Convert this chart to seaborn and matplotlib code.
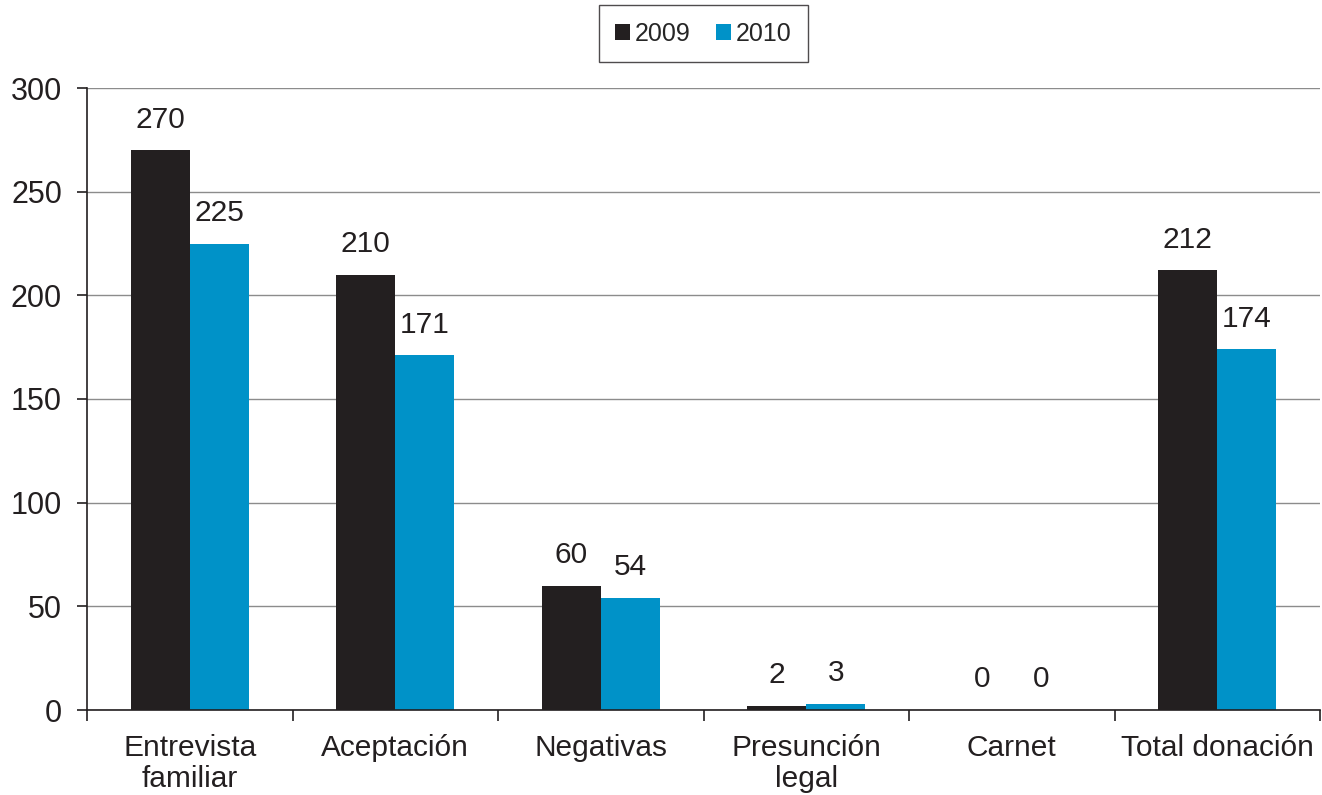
import numpy as np
import pandas as pd
import matplotlib
matplotlib.use("Agg")
import matplotlib.pyplot as plt
import seaborn as sns

categories = ["Entrevista\nfamiliar", "Aceptación", "Negativas",
              "Presunción\nlegal", "Carnet", "Total donación"]
values_2009 = [270, 210, 60, 2, 0, 212]
values_2010 = [225, 171, 54, 3, 0, 174]
years = ["2009", "2010"]
colors = ["#231f20", "#0092c8"]

df = pd.DataFrame({
    "categoria": categories * 2,
    "valor": values_2009 + values_2010,
    "año": [years[0]] * len(categories) + [years[1]] * len(categories),
})

sns.set_style("white")
plt.rcParams["font.family"] = ["Liberation Sans", "DejaVu Sans"]

fig = plt.figure(figsize=(13.22, 7.95), dpi=100)
ax = fig.add_axes([87 / 1322, 1 - 710 / 795, (1320 - 87) / 1322, (710 - 88) / 795])

sns.barplot(data=df, x="categoria", y="valor", hue="año", palette=colors,
            width=0.573, saturation=1, linewidth=0, ax=ax, legend=True)

ax.set_ylim(0, 300)
ax.set_xlim(-0.5, len(categories) - 0.5)
ax.set_yticks(np.arange(0, 301, 50))
ax.yaxis.grid(True, color="#8c8c8c", linewidth=1)
ax.set_axisbelow(True)
ax.set_xlabel("")
ax.set_ylabel("")

for s in ["top", "right"]:
    ax.spines[s].set_visible(False)
for s in ["left", "bottom"]:
    ax.spines[s].set_color("#231f20")
    ax.spines[s].set_linewidth(1.2)

ax.tick_params(axis="y", labelsize=22, length=7, width=1.2, color="#231f20",
               left=True, labelcolor="#231f20", pad=11)
# x ticks between categories
ax.set_xticks(np.arange(len(categories)))
ax.set_xticklabels(categories, fontsize=21.5, color="#231f20", linespacing=1.15)
ax.tick_params(axis="x", length=0, pad=17)
ax.set_xticks(np.arange(-0.5, len(categories), 1), minor=True)
ax.tick_params(axis="x", which="minor", length=8, width=1.2, color="#231f20", bottom=True)

for cont in ax.containers:
    ax.bar_label(cont, fontsize=21.5, color="#231f20", padding=12)

leg = ax.legend(loc="lower center", bbox_to_anchor=(0.5, 1.022), ncol=2,
                frameon=True, fancybox=False, edgecolor="#231f20",
                fontsize=18, handlelength=0.6, handleheight=0.6,
                handletextpad=0.2, columnspacing=1.0, borderpad=0.65)
leg.get_frame().set_linewidth(1.0)

fig.savefig("out.png", dpi=100)
